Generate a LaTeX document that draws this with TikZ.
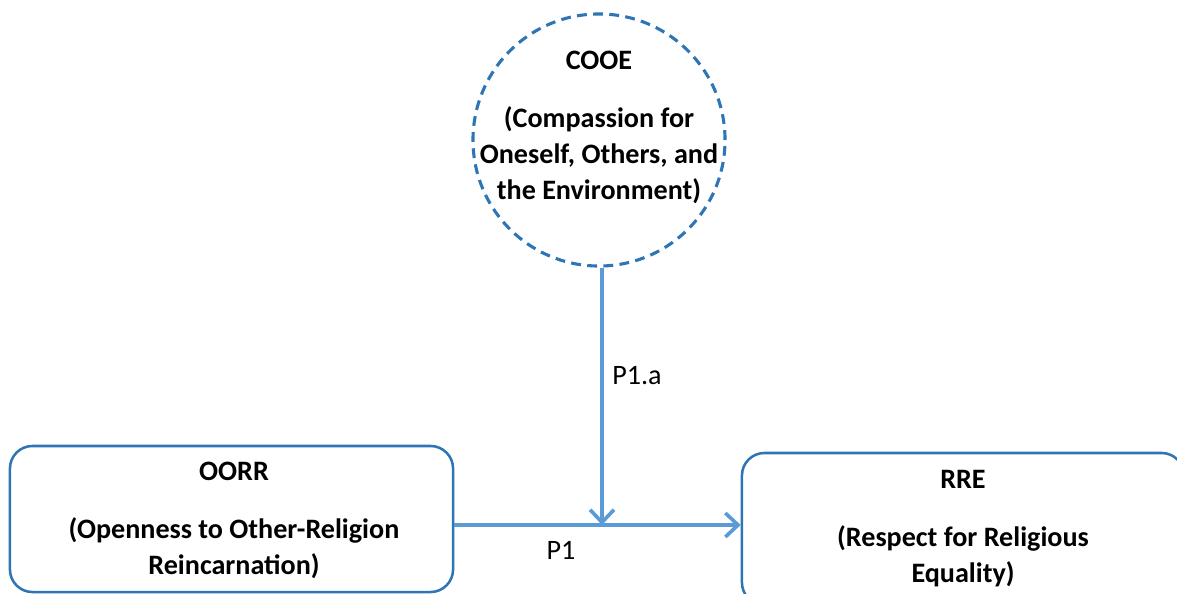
\documentclass[tikz,border=0pt]{standalone}
\usepackage{fontspec}
\setmainfont{Carlito}
\usetikzlibrary{arrows.meta}
\usetikzlibrary{positioning}
\definecolor{edgeblue}{HTML}{2E75B6}
\definecolor{arrblue}{HTML}{5B9BD5}

\begin{document}
\begin{tikzpicture}[x=0.025cm, y=-0.025cm,
	circ/.style={draw=edgeblue,circle,dashed,dash pattern=on 7pt off 4.5pt,line width=2.2pt,minimum size=6.3cm,inner sep=0pt},
	boxx/.style={draw=edgeblue,rectangle,rounded corners=16pt,line width=1.8pt,inner sep=0pt},
	ttl/.style={font=\fontsize{20}{25.6}\selectfont\bfseries,align=center},
	arr/.style={draw=arrblue,line width=2.8pt,-{Straight Barb[length=9pt,width=17pt,line width=2.6pt]}},
	lbl/.style={font=\fontsize{20}{24}\selectfont}]
	\useasboundingbox (0,0) rectangle (1177,593);
	\node[circ] (cooe) at (599,140) {};
	\node[ttl] (cooetxt) at (599,127) {COOE\\[15.6pt](Compassion for\\Oneself, Others, and\\the Environment)};
	\node[boxx,minimum width=11.075cm,minimum height=3.65cm] (oorr) at (231.5,519) {};
	\node[ttl] (oorrtxt) at (234,520) {OORR\\[15.6pt](Openness to Other-Religion\\Reincarnation)};
	\node[boxx,minimum width=11.05cm,minimum height=3.8cm] (rre) at (963,529) {};
	\node[ttl] (rretxt) at (963,529) {RRE\\[15.6pt](Respect for Religious\\Equality)};
	\coordinate (meet) at (602,525);
	\draw[arr] (oorr.east |- meet) -- (rre.west |- meet);
	\draw[arr] (cooe.south -| meet) -- (meet);
	\node[lbl] (p1a) at (637,376) {P1.a};
	\node[lbl] (p1) at (561,550) {P1};
\end{tikzpicture}
\end{document}
